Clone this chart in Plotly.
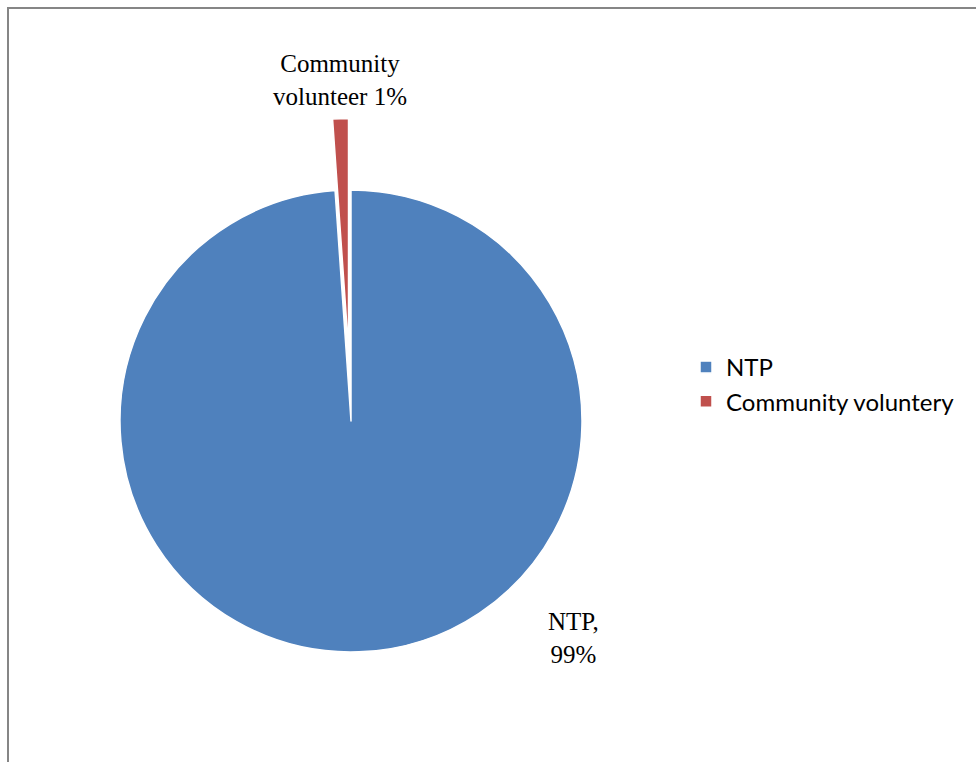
import plotly.graph_objects as go

labels = ["NTP", "Community voluntery"]
values = [98.9, 1.1]
label_texts = ["NTP,<br>99%", "Community<br>volunteer 1%"]
colors = ["#4F81BD", "#C0504D"]
pulls = [0, 0.31]

W, H = 976, 762
cx, cy, R = 351, 421, 231
half = R * (1 + max(pulls))

fig = go.Figure(go.Pie(
    labels=labels, values=values, sort=False, direction="clockwise", rotation=0,
    pull=pulls, textinfo="none", hoverinfo="label+percent",
    marker=dict(colors=colors, line=dict(color="white", width=1.5)),
    domain=dict(x=[(cx - half) / W, (cx + half) / W],
                y=[(H - cy - half) / H, (H - cy + half) / H]),
))

ann_pos = [(573, 638), (340, 80)]
for t, (ax, ay) in zip(label_texts, ann_pos):
    fig.add_annotation(text=t, x=ax / W, y=1 - ay / H, xref="paper", yref="paper",
                       showarrow=False, xanchor="center", yanchor="middle",
                       font=dict(family="Liberation Serif", size=25, color="black"))

fig.add_shape(type="path", xref="paper", yref="paper",
              path=f"M {8/W} 0 L {8/W} {1-8/H} L 1 {1-8/H}",
              line=dict(color="#868686", width=2))

fig.update_layout(
    width=W, height=H, margin=dict(l=0, r=0, t=0, b=0),
    paper_bgcolor="white", plot_bgcolor="white",
    showlegend=True,
    legend=dict(x=686 / W, y=1 - 345 / H, xanchor="left", yanchor="top",
                font=dict(family="Lato", size=24, color="black"),
                bgcolor="rgba(0,0,0,0)"),
)

fig.write_html("out.html")
